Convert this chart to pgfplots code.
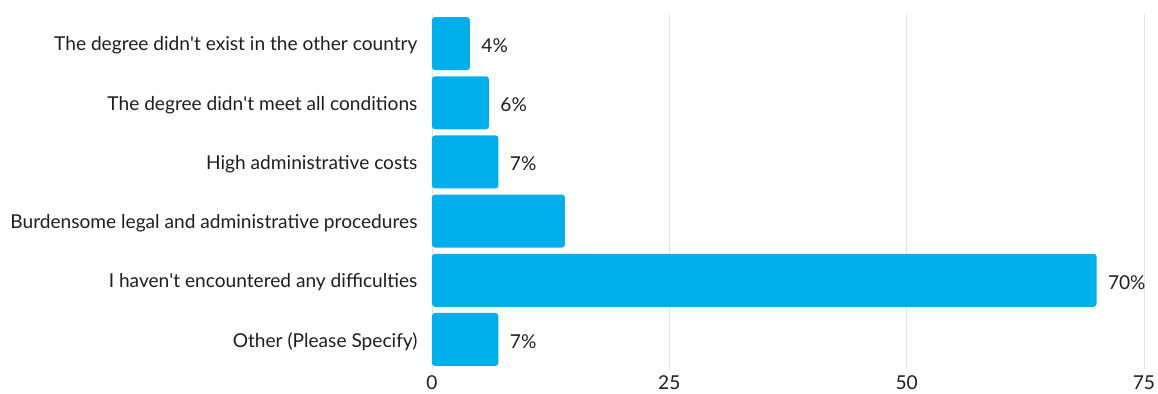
\documentclass[border=0pt]{standalone}
\usepackage{fontspec}
\setmainfont{Lato}
\usepackage{pgfplots}
\pgfplotsset{compat=1.18}
\definecolor{barblue}{HTML}{00AEEC}
\definecolor{gridgray}{HTML}{E2E2E2}
\definecolor{txt}{HTML}{1E1E1E}
\begin{document}
\begin{tikzpicture}
\begin{axis}[
  name=ax,
  scale only axis, width=712bp, height=355bp,
  xbar, bar width=53bp,
  xmin=0, xmax=75, ymin=-0.5, ymax=5.5,
  y dir=reverse,
  ytick={0,...,5},
  yticklabels={The degree didn\textquotesingle t exist in the other country,
    The degree didn\textquotesingle t meet all conditions,
    High administrative costs,
    Burdensome legal and administrative procedures,
    I haven\textquotesingle t encountered any difficulties,
    Other (Please Specify)},
  xtick={0,25,50,75},
  xmajorgrids, grid style={gridgray, line width=0.8bp},
  axis line style={draw=none},
  major tick length=0pt,
  /pgf/number format/assume math mode=true,
  tick label style={font=\fontsize{19.2}{22}\selectfont, text=txt},
  yticklabel style={xshift=-11bp, yshift=-2bp},
  xticklabel style={inner sep=0pt, yshift=-6.5bp},
  clip=false,
  point meta=explicit symbolic,
  nodes near coords={\pgfplotspointmeta},
  nodes near coords style={font=\fontsize{19.2}{22}\selectfont, text=txt, anchor=west, xshift=8bp, yshift=-2bp},
]
\addplot[fill=barblue, draw=none, rounded corners=3bp] coordinates {
  (4,0) [4\%]
  (6,1) [6\%]
  (7,2) [7\%]
  (14,3) [{}]
  (70,4) [70\%]
  (7,5) [7\%]
};
\end{axis}
\pgfresetboundingbox
\path[use as bounding box] (ax.south west) ++(-432bp,-25bp) rectangle ++(1158bp,394bp);
\end{tikzpicture}
\end{document}
